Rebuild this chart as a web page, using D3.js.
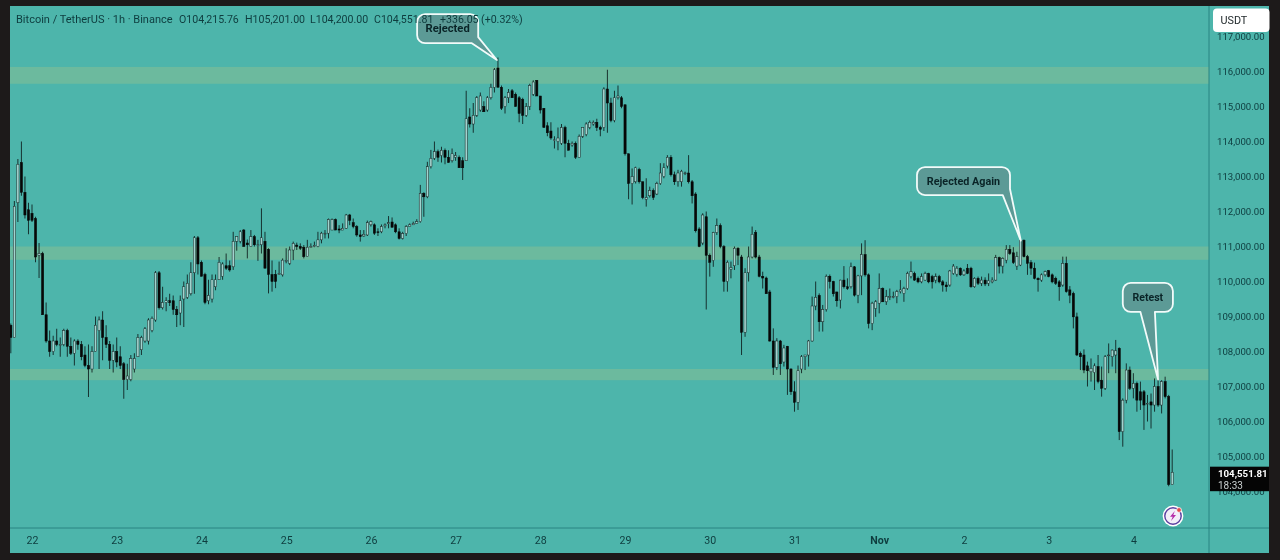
<!DOCTYPE html>
<html><head><meta charset="utf-8">
<script src="https://cdn.jsdelivr.net/npm/d3@7"></script>
<style>html,body{margin:0;padding:0;background:#1d1a1a;overflow:hidden}svg{display:block;filter:blur(0.3px)}text{font-family:Roboto,"Open Sans",sans-serif}</style>
</head><body><svg id="c" width="1280" height="560"></svg>
<script>
// Prices in thousands of USDT, hourly candles from Oct 21 18:00 (hour -6 relative to Oct 22 00:00)
const firstHour = -6;
const opens = [
108.75,108.4,112.25,113.4,112.55,112.05,111.95,111.8,110.75,110.8,
109.05,108.3,108.0,108.3,108.2,108.2,108.6,108.15,107.95,108.3,
108.2,107.9,107.6,107.5,108.0,108.6,108.9,108.4,108.2,107.75,
108.0,107.85,107.65,107.2,107.2,107.5,107.85,108.05,108.3,108.3,
108.6,108.9,110.25,109.25,109.4,109.45,109.45,109.2,109.1,109.5,
109.55,109.65,110.25,111.25,110.55,110.2,109.45,109.5,109.85,110.05,
110.15,110.45,110.45,110.42,111.15,111.15,111.47,111.1,111.0,111.28,
111.05,111.05,111.15,110.92,110.2,110.2,110.2,110.19,110.6,110.52,
110.9,111.04,111.0,110.98,110.71,110.98,111.0,111.0,111.19,111.38,
111.38,111.47,111.77,111.5,111.47,111.52,111.9,111.68,111.57,111.33,
111.3,111.33,111.62,111.62,111.42,111.42,111.59,111.65,111.7,111.62,
111.42,111.23,111.37,111.57,111.62,111.66,111.71,112.52,112.42,113.28,
113.52,113.71,113.6,113.75,113.55,113.45,113.55,113.55,113.45,113.45,
114.7,114.5,114.75,114.9,115.0,114.9,115.25,115.55,116.1,115.55,
115.0,115.25,115.45,115.35,115.25,115.2,114.75,115.0,115.35,115.75,
115.3,114.95,114.45,114.3,114.05,114.0,113.95,114.4,113.95,113.9,
113.95,113.55,114.15,114.2,114.4,114.5,114.55,114.4,114.4,115.5,
115.1,114.6,115.25,115.25,115.05,113.65,112.8,112.85,113.2,112.85,
112.35,112.45,112.6,112.5,112.8,113.0,113.3,113.55,113.05,112.85,
112.85,113.1,113.1,112.85,112.5,111.5,111.1,111.85,110.75,110.6,
111.4,111.6,111.0,110.0,110.35,110.45,110.95,110.7,108.55,110.25,
110.7,111.4,110.7,110.15,110.1,109.7,108.3,107.55,108.3,107.7,
108.15,107.5,106.85,106.55,107.5,107.85,107.9,108.3,109.3,109.6,
108.85,109.2,110.15,110.0,109.7,109.47,110.04,109.85,109.85,110.42,
109.61,110.16,110.77,110.19,108.8,109.23,109.38,109.8,109.42,109.57,
109.57,109.57,109.71,109.66,109.8,110.14,110.23,110.09,109.99,110.04,
110.23,110.14,110.04,110.14,109.99,109.9,109.9,110.23,110.21,110.38,
110.19,110.38,110.38,109.85,110.09,109.95,110.04,109.95,109.99,110.04,
110.68,110.44,110.61,110.92,110.82,110.44,110.47,111.18,110.71,110.54,
110.38,110.09,110.04,110.19,110.31,110.19,110.09,109.99,109.9,110.52,
109.76,109.66,108.99,107.95,107.9,107.59,107.42,107.4,107.57,107.18,
106.95,107.9,107.85,107.9,108.09,105.71,106.61,107.47,106.95,107.09,
106.85,106.85,106.5,106.56,106.47,107.0,106.47,107.14,106.71,104.2];
const highs = [
108.8,112.3,113.5,114.0,113.0,112.25,112.2,111.85,111.1,110.85,
109.4,108.6,108.45,108.65,108.4,108.65,108.65,108.4,108.35,108.35,
108.3,108.15,108.2,108.15,109.0,109.0,109.15,108.75,108.3,108.2,
108.4,108.15,107.7,107.65,107.9,107.95,108.5,108.45,108.7,108.95,
109.0,110.3,110.3,109.85,109.55,109.65,109.6,109.3,109.6,110.0,
110.2,110.55,111.3,111.3,110.6,110.25,110.05,110.2,110.2,110.7,
110.55,110.8,110.6,111.42,111.28,111.47,111.5,111.2,111.47,111.33,
111.19,112.09,111.42,110.95,110.6,110.33,110.57,110.66,110.95,111.0,
111.14,111.11,111.09,111.04,111.19,111.09,111.14,111.42,111.42,111.47,
111.8,111.8,111.8,111.61,111.66,111.93,111.93,111.8,111.61,111.47,
111.47,111.74,111.74,111.66,111.52,111.63,111.66,111.87,111.83,111.66,
111.52,111.42,111.61,111.66,111.71,111.78,112.76,112.55,113.42,113.76,
114.0,113.77,113.85,113.8,113.75,113.8,113.7,113.6,113.55,115.45,
114.95,115.1,115.3,115.4,115.15,115.3,115.65,116.1,116.4,115.6,
115.3,115.5,115.5,115.4,115.3,115.25,115.1,115.65,115.75,115.75,
115.3,114.95,114.55,114.55,114.15,114.4,114.5,114.45,114.05,114.0,
114.0,114.2,114.4,114.55,114.6,114.6,114.65,114.45,115.55,116.05,
115.25,115.45,115.6,115.3,115.05,113.65,113.23,113.28,113.25,112.85,
112.95,112.71,112.66,112.85,113.38,113.38,113.61,113.61,113.14,113.19,
113.19,113.14,113.61,112.9,112.55,111.55,111.95,112.0,110.8,111.42,
111.8,111.66,111.04,110.6,110.57,111.0,110.98,110.76,110.38,111.0,
111.57,111.47,110.76,110.28,110.14,109.76,108.66,108.38,108.33,108.19,
108.16,107.52,107.15,107.6,107.9,107.9,108.33,109.57,110.0,109.66,
109.33,110.2,110.2,110.02,109.71,110.05,110.44,110.09,110.54,110.44,
110.19,111.09,111.18,110.23,109.42,109.47,110.23,109.83,109.76,109.8,
109.71,109.76,110.04,109.85,110.28,110.57,110.28,110.14,110.23,110.28,
110.25,110.19,110.23,110.19,110.04,109.99,110.33,110.5,110.44,110.4,
110.35,110.5,110.42,110.12,110.14,110.14,110.12,110.23,110.12,110.76,
110.71,110.69,111.04,111.04,110.98,110.85,111.2,111.2,110.76,110.61,
110.54,110.12,110.23,110.31,110.33,110.23,110.14,110.04,110.71,110.71,
109.87,109.71,109.11,108.0,108.06,107.71,107.8,107.66,107.9,107.57,
107.9,108.23,108.06,108.33,108.12,106.66,107.66,107.57,107.38,107.14,
107.14,106.9,106.76,106.8,107.23,107.28,107.18,107.28,106.76,105.2];
const lows = [
107.95,108.4,111.7,112.45,111.8,111.35,111.7,110.55,110.1,109.05,
108.25,107.85,107.9,108.15,107.85,108.15,107.85,107.9,107.6,108.05,
107.75,107.55,106.7,107.4,108.0,107.5,107.75,108.1,107.5,107.4,
107.55,107.5,106.65,106.9,107.15,107.4,107.85,107.9,108.25,108.2,
108.55,108.85,109.2,109.2,109.15,109.3,109.05,108.7,108.75,108.7,
109.5,109.6,109.65,110.2,110.15,109.35,109.35,109.4,109.75,110.05,
110.05,110.33,110.28,110.33,110.88,111.09,111.0,110.66,111.0,111.0,
110.59,110.8,110.38,109.66,109.71,109.81,110.19,110.14,110.52,110.47,
110.61,110.9,110.9,110.66,110.71,110.98,110.98,110.98,111.09,111.23,
111.23,111.47,111.47,111.38,111.47,111.5,111.61,111.52,111.28,111.14,
111.28,111.3,111.57,111.33,111.3,111.38,111.52,111.52,111.55,111.38,
111.2,111.2,111.3,111.57,111.62,111.66,111.68,111.85,112.38,113.23,
113.47,113.42,113.4,113.35,113.4,113.4,113.45,113.25,112.9,113.45,
114.4,114.25,114.7,114.85,114.85,114.85,115.2,115.4,115.55,114.9,
114.8,115.1,115.25,115.0,114.55,114.5,114.7,114.9,115.3,115.3,
114.8,114.4,114.15,114.05,113.8,113.75,113.9,113.55,113.75,113.85,
113.5,113.55,114.1,114.15,114.35,114.45,114.3,114.15,114.3,114.25,
114.55,114.55,115.2,114.95,113.6,112.35,112.2,112.8,112.8,112.35,
112.14,112.4,112.33,112.47,112.76,112.95,113.23,113.0,112.76,112.71,
112.71,113.04,112.8,112.23,111.4,110.98,111.04,109.2,110.14,110.42,
111.33,110.95,109.71,109.71,110.09,110.33,110.47,107.9,108.42,110.0,
110.66,110.66,110.12,109.8,109.66,108.28,107.33,107.47,107.33,107.57,
106.76,106.76,106.28,106.33,107.38,107.47,107.57,108.28,109.18,108.57,
108.57,109.14,109.8,109.57,109.28,109.23,109.8,109.76,109.8,109.57,
109.38,109.61,110.14,108.66,108.61,108.99,109.09,109.42,109.33,109.47,
109.52,109.38,109.66,109.42,109.76,110.09,110.02,109.95,109.95,110.02,
109.95,109.8,109.95,109.95,109.71,109.71,109.85,110.19,110.14,110.16,
110.16,110.21,109.82,109.82,109.9,109.87,109.87,109.87,109.95,110.02,
110.23,110.23,110.52,110.76,110.5,110.33,110.44,110.69,110.19,110.19,
110.06,109.71,109.99,110.14,110.12,109.95,109.9,109.45,109.85,109.68,
109.38,108.66,107.87,107.47,107.38,107.0,107.14,106.9,107.09,106.71,
106.9,107.38,107.57,107.38,105.47,105.28,106.52,106.9,106.66,106.28,
106.33,105.76,106.0,105.8,106.28,106.42,106.23,106.66,104.15,104.2];
const closes = [
108.4,112.15,113.35,112.55,111.9,111.75,111.75,110.7,110.8,109.05,
108.3,108.0,108.3,108.2,108.2,108.6,108.15,107.95,108.3,108.2,
107.85,107.6,107.5,108.0,108.75,108.9,108.4,108.2,107.75,108.0,
107.7,107.6,107.2,107.3,107.8,107.8,108.4,108.4,108.65,108.9,
108.95,110.25,109.25,109.4,109.45,109.4,109.2,109.05,109.45,109.85,
109.95,110.25,111.25,110.5,110.15,109.4,109.6,110.05,110.05,110.55,
110.5,110.38,110.33,111.15,111.28,111.42,111.0,111.05,111.28,111.05,
111.05,111.25,110.38,110.2,110.0,110.0,110.23,110.61,110.6,110.9,
111.09,111.0,110.95,110.71,110.98,111.0,111.03,111.19,111.38,111.38,
111.77,111.77,111.47,111.47,111.52,111.9,111.75,111.57,111.33,111.28,
111.35,111.68,111.71,111.38,111.4,111.57,111.62,111.68,111.55,111.42,
111.23,111.37,111.57,111.62,111.66,111.71,112.52,112.42,113.28,113.52,
113.71,113.55,113.75,113.55,113.4,113.65,113.6,113.25,113.25,114.65,
114.5,114.75,115.25,115.3,114.85,115.25,115.55,116.05,115.55,114.95,
115.25,115.4,115.25,115.0,114.8,114.75,115.0,115.6,115.7,115.3,
114.9,114.4,114.25,114.1,114.05,114.1,114.4,113.95,113.75,113.95,
113.55,114.15,114.4,114.5,114.55,114.55,114.4,114.35,115.5,115.1,
114.6,115.25,115.3,115.0,113.65,112.8,113.0,113.25,112.85,112.4,
112.4,112.6,112.4,112.8,113.1,113.25,113.55,113.05,112.85,113.1,
113.15,113.1,112.85,112.45,111.45,111.0,111.9,110.75,110.55,111.4,
111.6,111.0,110.0,110.55,110.4,110.95,110.75,108.55,110.25,110.7,
111.35,110.7,110.15,110.1,109.65,108.3,107.55,108.3,107.65,108.1,
107.5,106.85,106.55,107.45,107.85,107.9,108.3,109.3,109.55,108.85,
109.2,110.15,110.0,109.65,109.45,110.04,109.85,109.8,110.42,109.61,
110.16,110.77,110.19,108.8,109.38,109.42,109.8,109.42,109.57,109.57,
109.57,109.71,109.76,109.8,110.23,110.28,110.04,109.99,110.14,110.23,
109.99,109.99,110.14,109.99,109.9,109.85,110.3,110.44,110.38,110.19,
110.3,110.23,109.85,110.09,109.95,110.04,109.93,110.02,110.04,110.68,
110.44,110.66,110.92,110.8,110.54,110.71,111.18,110.71,110.52,110.38,
110.09,110.05,110.19,110.28,110.14,109.99,109.95,109.85,110.52,109.71,
109.61,108.99,107.9,107.85,107.47,107.45,107.52,107.59,107.14,106.95,
107.85,107.9,108.04,108.02,105.71,106.61,107.47,106.95,107.09,106.61,
106.61,106.47,106.52,106.47,107.0,106.47,107.14,106.71,104.2,104.55];

const priceTicks = [104,105,106,107,108,109,110,111,112,113,114,115,116,117];
const dayLabels = ["22","23","24","25","26","27","28","29","30","31","Nov","2","3","4"];
const dayHours = [0,24,48,72,96,120,144,168,192,216,240,264,288,312];
const zoneTops = [116.13,111.0,107.5];
const zoneBottoms = [115.65,110.62,107.18];
const headerTexts = ["Bitcoin / TetherUS · 1h · Binance","O104,215.76","H105,201.00","L104,200.00","C104,551.81","+336.05","(+0.32%)"];
const headerX = [16,179,245,310,374,440,481];
const lastPrice = 104.55181;
const lastPriceLabel = "104,551.81";
const countdownLabel = "18:33";
const unitLabel = "USDT";
// Callouts in data units: box corners (hour, price), tip, and where the tail leaves the box
const callouts = [
 {label:"Rejected",       size:11.2, l:109.1, r:126.4, top:117.64, bot:116.81, tipH:131.7, tipP:116.33, baseA:124.6, baseB:null},
 {label:"Rejected Again", size:10.8, l:250.7, r:277.05, top:113.27, bot:112.47, tipH:280.1, tipP:111.17, baseA:275.0, baseB:null},
 {label:"Retest",         size:10.5, l:309.0, r:323.2, top:109.96, bot:109.13, tipH:319.0, tipP:107.2,  baseA:314.0, baseB:318.1}
];

const plot = {l:10, r:1269, t:6, b:553, axisX:1209, axisY:528};
const x = d3.scaleLinear().domain([0,323]).range([32,1172.2]);
const y = d3.scaleLinear().domain([116,105]).range([71.5,456.5]);
const svg = d3.select("#c");

svg.append("rect").attr("x",plot.l).attr("y",plot.t).attr("width",plot.r-plot.l).attr("height",plot.b-plot.t).attr("fill","#4db5ab");
svg.append("defs").append("clipPath").attr("id","pane").append("rect")
   .attr("x",plot.l).attr("y",plot.t).attr("width",plot.axisX-plot.l).attr("height",plot.axisY-plot.t);

const pane = svg.append("g").attr("clip-path","url(#pane)");
pane.selectAll("rect.zone").data(zoneTops).join("rect").attr("class","zone")
   .attr("x",plot.l).attr("width",plot.axisX-plot.l)
   .attr("y",d=>y(d)).attr("height",(d,i)=>y(zoneBottoms[i])-y(d))
   .attr("fill","#6cba9e");

const rows = opens.map((o,i)=>({h:firstHour+i,o,hi:highs[i],lo:lows[i],c:closes[i]}));
const cg = pane.selectAll("g.candle").data(rows).join("g").attr("class","candle");
cg.append("line").attr("x1",d=>x(d.h)).attr("x2",d=>x(d.h)).attr("y1",d=>y(d.hi)).attr("y2",d=>y(d.lo))
  .attr("stroke","#0c1a1a").attr("stroke-width",0.85);
cg.append("rect").attr("x",d=>x(d.h)-1.1).attr("width",2.2)
  .attr("y",d=>y(Math.max(d.o,d.c))).attr("height",d=>Math.max(0.8,Math.abs(y(d.o)-y(d.c))))
  .attr("fill",d=>d.c>=d.o?"#a2d3ce":"#070707")
  .attr("stroke",d=>d.c>=d.o?"#1a2626":"#070707").attr("stroke-width",0.5);

// callouts
const calloutPath = c => {
  const L=x(c.l),R=x(c.r),T=y(c.top),B=y(c.bot),r=8,p=d3.path();
  p.moveTo(L+r,T); p.lineTo(R-r,T); p.arcTo(R,T,R,T+r,r);
  if(c.baseB===null){
    p.lineTo(R,B-r+2); p.lineTo(x(c.tipH),y(c.tipP)); p.lineTo(x(c.baseA),B);
  } else {
    p.lineTo(R,B-r); p.arcTo(R,B,R-r,B,r);
    p.lineTo(x(c.baseB),B); p.lineTo(x(c.tipH),y(c.tipP)); p.lineTo(x(c.baseA),B);
  }
  p.lineTo(L+r,B); p.arcTo(L,B,L,B-r,r); p.lineTo(L,T+r); p.arcTo(L,T,L+r,T,r); p.closePath();
  return p.toString();
};

const axisInk = "#0e3c3e";
const callG = svg.append("g").selectAll("g").data(callouts).join("g");
callG.append("path").attr("d",calloutPath).attr("fill","#5c9a96").attr("stroke","#f2fbfa").attr("stroke-width",1.8).attr("stroke-linejoin","round");
callG.append("text").attr("x",c=>(x(c.l)+x(c.r))/2).attr("y",c=>(y(c.top)+y(c.bot))/2+3.5)
   .attr("text-anchor","middle").attr("font-size",c=>c.size).attr("font-weight",700).attr("fill","#0a2427").text(c=>c.label);

// header sits over the callouts
svg.append("g").selectAll("text").data(headerTexts).join("text")
   .attr("x",(d,i)=>headerX[i]).attr("y",23).attr("font-size",(d,i)=>i===0?11:10.6).attr("fill",axisInk).text(d=>d);

// separators
svg.append("line").attr("x1",plot.axisX).attr("x2",plot.axisX).attr("y1",plot.t).attr("y2",plot.b).attr("stroke","#2a8482").attr("stroke-width",1);
svg.append("line").attr("x1",plot.l).attr("x2",plot.r).attr("y1",plot.axisY).attr("y2",plot.axisY).attr("stroke","#2a8482").attr("stroke-width",1);

// price axis
const fmt = d3.format(",.2f");
const yAxis = d3.axisRight(y).tickValues(priceTicks).tickSize(0).tickPadding(0).tickFormat(d=>fmt(d*1000));
const ya = svg.append("g").attr("transform",`translate(${plot.axisX+8},0)`).call(yAxis);
ya.select(".domain").remove();
ya.selectAll("text").attr("font-size",9.6).attr("fill",axisInk).style("font-family","Roboto,sans-serif");

// time axis
const xAxis = d3.axisBottom(x).tickValues(dayHours).tickSize(0).tickPadding(0).tickFormat((d,i)=>dayLabels[i]);
const xa = svg.append("g").attr("transform",`translate(0,${plot.axisY+8.5})`).call(xAxis);
xa.select(".domain").remove();
xa.selectAll("text").attr("font-size",10.6).attr("fill",axisInk).style("font-family","Roboto,sans-serif")
  .attr("font-weight",(d,i)=>dayLabels[i]==="Nov"?700:400);

// unit button
svg.append("rect").attr("x",1213).attr("y",8.5).attr("width",56.5).attr("height",23.5).attr("rx",4).attr("fill","#ffffff");
svg.append("text").attr("x",1220.5).attr("y",24).attr("font-size",10.8).attr("fill","#222a2c").text(unitLabel);

// last-price tag
const tagY = y(lastPrice);
svg.append("rect").attr("x",plot.axisX+1).attr("y",tagY-5.5).attr("width",59).attr("height",24.5).attr("fill","#050505");
svg.append("text").attr("x",1218).attr("y",tagY+4.5).attr("font-size",9.7).attr("font-weight",700).attr("fill","#ffffff").text(lastPriceLabel);
svg.append("text").attr("x",1218).attr("y",tagY+16.5).attr("font-size",10).attr("fill","#c9cfcf").text(countdownLabel);

// replay badge
const b = svg.append("g").attr("transform","translate(1173,516)");
b.append("circle").attr("r",10.4).attr("fill","#ffffff");
b.append("circle").attr("r",8.2).attr("fill","#f3eef8").attr("stroke","#5b3fa0").attr("stroke-width",1.4);
b.append("path").attr("d",d3.line()([[1.8,-5],[-3,0.8],[-0.3,0.8],[-2,5],[3,-1],[0.3,-1]])+"Z").attr("fill","#b52ca8");
b.append("circle").attr("cx",6).attr("cy",-6).attr("r",2.4).attr("fill","#e5484d").attr("stroke","#fff").attr("stroke-width",0.8);
</script></body></html>
